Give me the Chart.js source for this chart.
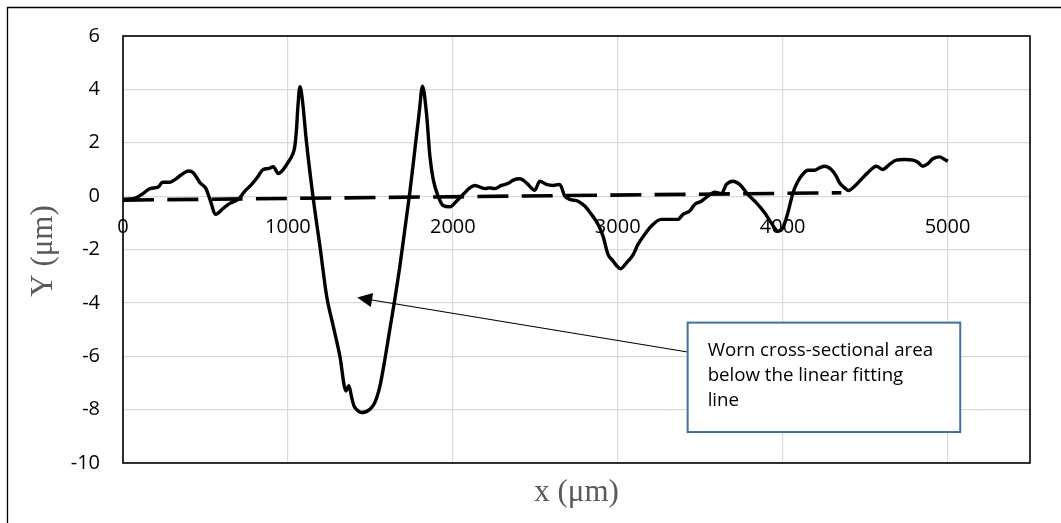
<!DOCTYPE html>
<html><head><meta charset="utf-8">
<script src="https://cdn.jsdelivr.net/npm/chart.js@4.4.1/dist/chart.umd.min.js"></script>
<style>html,body{margin:0;padding:0;background:#fff;}canvas{display:block;}</style>
</head><body>
<canvas id="c" width="1061" height="523"></canvas>
<script>
// Surface profile (x in µm, Y in µm)
const profileX = [0,62,113,164,214,240,285,315,356,396,426,467,503,527,562,608,648,699,739,780,820,850,881,911,942,972,1002,1028,1042,1052,1060,1073,1086,1113,1153,1194,1235,1275,1315,1352,1370,1385,1400,1416,1446,1497,1527,1558,1588,1618,1648,1679,1709,1739,1770,1796,1816,1840,1861,1881,1911,1941,1982,2022,2062,2103,2133,2194,2224,2255,2295,2336,2366,2406,2446,2497,2527,2567,2608,2648,2679,2709,2759,2800,2840,2881,2911,2941,2972,2992,3016,3053,3093,3123,3164,3204,3264,3315,3365,3396,3436,3467,3507,3547,3588,3629,3659,3699,3739,3790,3841,3891,3931,3972,4002,4032,4063,4093,4113,4154,4194,4224,4255,4295,4325,4345,4376,4400,4436,4477,4517,4568,4608,4648,4689,4739,4790,4820,4850,4881,4911,4952,4982,5002];
const profileY = [-0.12,-0.10,0.06,0.28,0.34,0.52,0.52,0.62,0.81,0.94,0.88,0.50,0.28,-0.12,-0.68,-0.46,-0.27,-0.12,0.19,0.44,0.75,1.00,1.03,1.10,0.85,1.00,1.27,1.56,1.87,2.5,3.3,4.1,3.7,2.0,-0.06,-1.87,-3.75,-4.87,-5.99,-7.30,-7.10,-7.50,-7.85,-7.99,-8.11,-7.99,-7.74,-7.12,-6.12,-4.99,-3.87,-2.62,-1.25,0.13,1.75,3.12,4.12,3.12,1.5,0.63,0.0,-0.35,-0.40,-0.19,0.06,0.31,0.40,0.28,0.31,0.28,0.40,0.48,0.60,0.65,0.50,0.22,0.56,0.44,0.40,0.44,0.0,-0.12,-0.19,-0.37,-0.68,-1.06,-1.5,-2.18,-2.43,-2.6,-2.72,-2.5,-2.2,-1.81,-1.43,-1.12,-0.87,-0.87,-0.87,-0.68,-0.56,-0.31,-0.19,0.0,0.15,0.10,0.44,0.56,0.44,0.06,-0.25,-0.62,-1.0,-1.31,-1.18,-0.62,0.13,0.56,0.75,0.97,0.97,1.06,1.12,1.0,0.75,0.5,0.31,0.21,0.37,0.63,0.88,1.12,1.0,1.19,1.35,1.37,1.35,1.27,1.12,1.22,1.40,1.47,1.37,1.31];
// Linear fitting line
const fitX = [0, 4356];
const fitY = [-0.15, 0.127];
// Axes
const xTickValues = [0, 1000, 2000, 3000, 4000, 5000];
const yTickValues = [-10, -8, -6, -4, -2, 0, 2, 4, 6];
const xTitle = 'x (μm)';
const yTitle = 'Y (μm)';
// Annotation (in data units)
const noteLines = ['Worn cross-sectional area', 'below the linear fitting', 'line'];
const noteBox = {x0: 3424, y0: -4.74, x1: 5077, y1: -8.84};
const arrowFrom = {x: 3424, y: -5.84};
const arrowTo = {x: 1420, y: -3.80};

const toPts = (xs, ys) => xs.map((x, i) => ({x, y: ys[i]}));

const decor = {
  id: 'decor',
  afterDraw(chart) {
    const ctx = chart.ctx, a = chart.chartArea;
    const xs = chart.scales.x, ys = chart.scales.y;
    ctx.save();
    // outer chart border (top and left visible)
    ctx.strokeStyle = '#000'; ctx.lineWidth = 1.3;
    ctx.beginPath(); ctx.moveTo(7.5, 523); ctx.lineTo(7.5, 7.5); ctx.lineTo(1061, 7.5); ctx.stroke();
    // plot border
    ctx.lineWidth = 1.6; ctx.strokeStyle = '#000';
    ctx.strokeRect(a.left, a.top, a.right - a.left, a.bottom - a.top);
    // x tick labels next to the y=0 axis
    ctx.fillStyle = '#000'; ctx.font = '20px "Open Sans"';
    ctx.textAlign = 'center'; ctx.textBaseline = 'middle';
    const y0 = ys.getPixelForValue(0);
    xTickValues.forEach(v => ctx.fillText(String(v), xs.getPixelForValue(v), y0 + 31));
    // axis titles
    ctx.fillStyle = '#595959'; ctx.font = '31px "Liberation Serif"';
    ctx.fillText(xTitle, (a.left + a.right) / 2, 493);
    ctx.save(); ctx.translate(44, 251); ctx.rotate(-Math.PI / 2);
    ctx.fillText(yTitle, 0, 0); ctx.restore();
    // arrow
    const fx = xs.getPixelForValue(arrowFrom.x), fy = ys.getPixelForValue(arrowFrom.y);
    const tx = xs.getPixelForValue(arrowTo.x), ty = ys.getPixelForValue(arrowTo.y);
    const ang = Math.atan2(ty - fy, tx - fx);
    const hl = 15, hw = 7;
    const bx = tx - hl * Math.cos(ang), by = ty - hl * Math.sin(ang);
    ctx.strokeStyle = '#000'; ctx.lineWidth = 1.1;
    ctx.beginPath(); ctx.moveTo(fx, fy); ctx.lineTo(bx, by); ctx.stroke();
    ctx.fillStyle = '#000';
    ctx.beginPath(); ctx.moveTo(tx, ty);
    ctx.lineTo(bx + hw * Math.sin(ang), by - hw * Math.cos(ang));
    ctx.lineTo(bx - hw * Math.sin(ang), by + hw * Math.cos(ang));
    ctx.closePath(); ctx.fill();
    // note box
    const bx0 = xs.getPixelForValue(noteBox.x0), by0 = ys.getPixelForValue(noteBox.y0);
    const bx1 = xs.getPixelForValue(noteBox.x1), by1 = ys.getPixelForValue(noteBox.y1);
    ctx.fillStyle = '#fff';
    ctx.fillRect(bx0, by0, bx1 - bx0, by1 - by0);
    ctx.strokeStyle = '#41719C'; ctx.lineWidth = 2;
    ctx.strokeRect(bx0, by0, bx1 - bx0, by1 - by0);
    ctx.fillStyle = '#000'; ctx.font = '18.7px "Open Sans"';
    ctx.textAlign = 'left'; ctx.textBaseline = 'alphabetic';
    noteLines.forEach((t, i) => ctx.fillText(t, bx0 + 20, by0 + 33 + i * 25));
    ctx.restore();
  }
};

new Chart(document.getElementById('c'), {
  type: 'line',
  data: {
    datasets: [
      {data: toPts(profileX, profileY), borderColor: '#000', borderWidth: 3.4, pointRadius: 0,
       cubicInterpolationMode: 'monotone', fill: false, order: 2},
      {data: toPts(fitX, fitY), borderColor: '#000', borderWidth: 3.6, pointRadius: 0,
       borderDash: [31, 13.3], borderCapStyle: 'butt', fill: false, order: 1}
    ]
  },
  options: {
    responsive: false, animation: false, devicePixelRatio: 1,
    layout: {padding: {left: 43, top: 36, right: 31, bottom: 60}},
    plugins: {legend: {display: false}, tooltip: {enabled: false}},
    scales: {
      x: {type: 'linear', min: 0, max: 5500,
          ticks: {display: false},
          afterBuildTicks(s) { s.ticks = xTickValues.map(v => ({value: v})); },
          grid: {color: '#D9D9D9', lineWidth: 1.2, drawTicks: false},
          border: {display: false},
          afterFit(s) { s.height = 0; }},
      y: {type: 'linear', min: -10, max: 6,
          afterBuildTicks(s) { s.ticks = yTickValues.map(v => ({value: v})); },
          ticks: {padding: 23, color: '#000', font: {family: 'Open Sans', size: 20}},
          grid: {color: '#D9D9D9', lineWidth: 1.2, drawTicks: false},
          border: {display: false},
          afterFit(s) { s.width = 80; }}
    }
  },
  plugins: [decor]
});
</script>
</body></html>
